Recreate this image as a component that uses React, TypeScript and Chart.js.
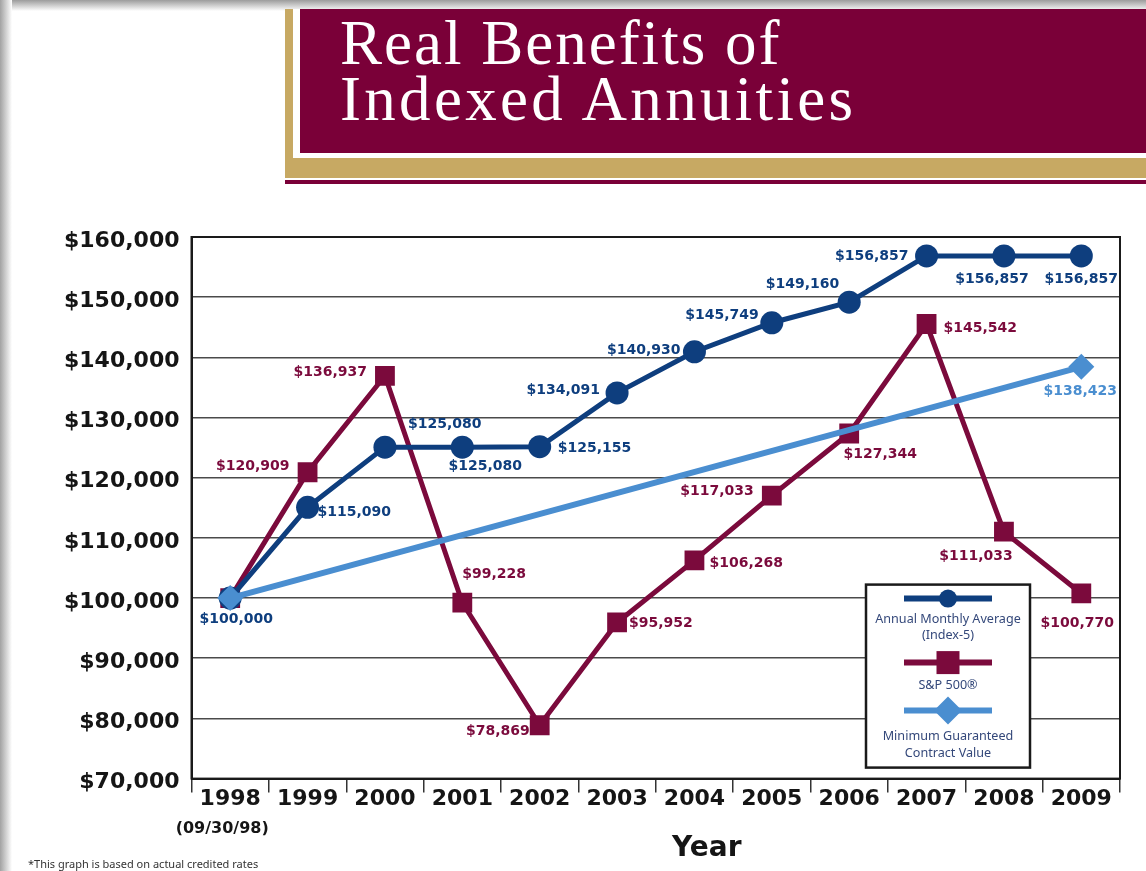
import React, { useEffect, useRef } from 'react';
import { Chart, registerables } from 'chart.js';

Chart.register(...registerables);

// ---------- data ----------
const years = ['1998', '1999', '2000', '2001', '2002', '2003', '2004', '2005', '2006', '2007', '2008', '2009'];
const annualMonthlyAverage = [100000, 115090, 125080, 125080, 125155, 134091, 140930, 145749, 149160, 156857, 156857, 156857];
const sp500 = [100000, 120909, 136937, 99228, 78869, 95952, 106268, 117033, 127344, 145542, 111033, 100770];
const minimumGuaranteed: (number | null)[] = [100000, null, null, null, null, null, null, null, null, null, null, 138423];
const yTickValues = [70000, 80000, 90000, 100000, 110000, 120000, 130000, 140000, 150000, 160000];
const firstYearNote = '(09/30/98)';
const xAxisTitle = 'Year';
const legendTexts = [['Annual Monthly Average', '(Index-5)'], ['S&P 500®'], ['Minimum Guaranteed', 'Contract Value']];
const seriesNames = ['Annual Monthly Average (Index-5)', 'S&P 500®', 'Minimum Guaranteed Contract Value'];

// ---------- styles ----------
const NAVY = '#0e3e7e';
const MAROON = '#7b0a3c';
const LIGHT = '#4a8ed0';
const FONT = "'DejaVu Sans', sans-serif";

type Placement = [number, number, CanvasTextAlign] | null;
const amaLabelPlacement: Placement[] = [
  [6, 21, 'center'],
  [10, 5, 'left'],
  [23, -23, 'left'],
  [23, 19, 'center'],
  [18, 2, 'left'],
  [-17, -3, 'right'],
  [-14, -1, 'right'],
  [-13, -7, 'right'],
  [-10, -18, 'right'],
  [-18, 0, 'right'],
  [-12, 23, 'center'],
  [0, 23, 'center'],
];
const spLabelPlacement: Placement[] = [
  null,
  [-18, -6, 'right'],
  [-18, -3, 'right'],
  [0, -28, 'left'],
  [-10, 6, 'right'],
  [12, 1, 'left'],
  [15, 3, 'left'],
  [-18, -4, 'right'],
  [31, 21, 'center'],
  [17, 4, 'left'],
  [-28, 25, 'center'],
  [-4, 30, 'center'],
];
const mgLabelPlacement: Placement[] = [null, null, null, null, null, null, null, null, null, null, null, [-1, 25, 'center']];
const placements = [amaLabelPlacement, spLabelPlacement, mgLabelPlacement];

const fmt = (v: number) => '$' + Math.round(v).toLocaleString('en-US');

const borderPlugin = {
  id: 'plotBorder',
  beforeDatasetsDraw(chart: any) {
    const { ctx, chartArea: a } = chart;
    ctx.save();
    ctx.strokeStyle = '#1a1a1a';
    ctx.lineWidth = 2;
    ctx.strokeRect(a.left, a.top, a.right - a.left, a.bottom - a.top);
    ctx.restore();
  },
};

const dataLabelPlugin = {
  id: 'pointLabels',
  afterDatasetsDraw(chart: any) {
    const { ctx } = chart;
    ctx.save();
    ctx.font = `bold 14px ${FONT}`;
    ctx.textBaseline = 'middle';
    chart.data.datasets.forEach((ds: any, i: number) => {
      const meta = chart.getDatasetMeta(i);
      const pl = placements[i];
      meta.data.forEach((el: any, j: number) => {
        const v = ds.data[j];
        const p = pl[j];
        if (v == null || !p) return;
        ctx.fillStyle = ds.borderColor;
        ctx.textAlign = p[2];
        ctx.fillText(fmt(v), el.x + p[0], el.y + p[1]);
      });
    });
    ctx.restore();
  },
};

const legendPlugin = {
  id: 'boxLegend',
  afterDatasetsDraw(chart: any) {
    const { ctx, chartArea: a } = chart;
    const w = 164, h = 183;
    const x0 = a.right - 90 - w;
    const y0 = a.bottom - 11 - h;
    ctx.save();
    ctx.fillStyle = '#ffffff';
    ctx.fillRect(x0, y0, w, h);
    ctx.lineWidth = 2.5;
    ctx.strokeStyle = '#1a1a1a';
    ctx.strokeRect(x0, y0, w, h);
    const cx = x0 + w / 2;
    const rows = [
      { lineY: 14, textY: [35, 51] },
      { lineY: 78, textY: [101] },
      { lineY: 126, textY: [152, 169] },
    ];
    chart.data.datasets.forEach((ds: any, i: number) => {
      const r = rows[i];
      const ly = y0 + r.lineY;
      ctx.strokeStyle = ds.borderColor;
      ctx.fillStyle = ds.borderColor;
      ctx.lineWidth = 6;
      ctx.beginPath();
      ctx.moveTo(cx - 44, ly);
      ctx.lineTo(cx + 44, ly);
      ctx.stroke();
      ctx.beginPath();
      if (ds.pointStyle === 'circle') {
        ctx.arc(cx, ly, 9, 0, Math.PI * 2);
      } else if (ds.pointStyle === 'rect') {
        ctx.rect(cx - 11.5, ly - 11.5, 23, 23);
      } else {
        ctx.moveTo(cx - 14, ly);
        ctx.lineTo(cx, ly - 14);
        ctx.lineTo(cx + 14, ly);
        ctx.lineTo(cx, ly + 14);
        ctx.closePath();
      }
      ctx.fill();
      ctx.fillStyle = '#34487a';
      ctx.font = `12.6px 'Noto Sans', sans-serif`;
      ctx.textAlign = 'center';
      ctx.textBaseline = 'middle';
      legendTexts[i].forEach((t, k) => ctx.fillText(t, cx, y0 + r.textY[k]));
    });
    ctx.restore();
  },
};

const axisTextPlugin = {
  id: 'axisText',
  afterDraw(chart: any) {
    const { ctx, chartArea: a } = chart;
    const xs = chart.scales.x;
    ctx.save();
    ctx.fillStyle = '#151515';
    ctx.textAlign = 'center';
    ctx.textBaseline = 'middle';
    ctx.font = `bold 16px ${FONT}`;
    ctx.fillText(firstYearNote, xs.getPixelForTick(0) - 8, a.bottom + 50);
    ctx.font = `bold 28px ${FONT}`;
    ctx.fillText(xAxisTitle, a.left + (a.right - a.left) * 0.555, a.bottom + 70);
    ctx.restore();
  },
};

function ChartCanvas() {
  const ref = useRef<HTMLCanvasElement | null>(null);
  useEffect(() => {
    if (!ref.current) return;
    const chart = new Chart(ref.current, {
      type: 'line',
      data: {
        labels: years,
        datasets: [
          {
            label: seriesNames[0],
            data: annualMonthlyAverage,
            borderColor: NAVY,
            backgroundColor: NAVY,
            borderWidth: 5,
            pointStyle: 'circle',
            pointRadius: 11.5,
            pointBorderWidth: 0,
            pointBackgroundColor: NAVY,
            tension: 0,
            order: 1,
          },
          {
            label: seriesNames[1],
            data: sp500,
            borderColor: MAROON,
            backgroundColor: MAROON,
            borderWidth: 5,
            pointStyle: 'rect',
            pointRadius: 14,
            pointBorderWidth: 0,
            pointBackgroundColor: MAROON,
            tension: 0,
            order: 2,
          },
          {
            label: seriesNames[2],
            data: minimumGuaranteed,
            borderColor: LIGHT,
            backgroundColor: LIGHT,
            borderWidth: 6,
            pointStyle: 'rectRot',
            pointRadius: 13,
            pointBorderWidth: 0,
            pointBackgroundColor: LIGHT,
            spanGaps: true,
            tension: 0,
            order: 0,
          },
        ],
      },
      options: {
        responsive: false,
        animation: false,
        layout: { padding: { top: 47, right: 26, bottom: 66, left: 52 } },
        plugins: {
          legend: { display: false },
          tooltip: { enabled: false },
          title: { display: false },
        },
        scales: {
          x: {
            type: 'category',
            offset: true,
            grid: {
              display: true,
              drawOnChartArea: false,
              drawTicks: true,
              tickLength: 14,
              offset: true,
              color: '#333',
              lineWidth: 1.5,
            },
            border: { display: true, color: '#1a1a1a', width: 2 },
            ticks: {
              font: { family: FONT, size: 22, weight: 'bold' },
              color: '#151515',
              padding: -7,
              maxRotation: 0,
              autoSkip: false,
            },
          },
          y: {
            min: 70000,
            max: 160000,
            afterBuildTicks: (scale: any) => {
              scale.ticks = yTickValues.map((v) => ({ value: v }));
            },
            grid: { color: '#4a4a4a', lineWidth: 1.5, drawTicks: false },
            border: { display: true, color: '#1a1a1a', width: 2 },
            ticks: {
              font: { family: FONT, size: 22, weight: 'bold' },
              color: '#151515',
              padding: 12,
              labelOffset: 4,
              callback: (v: any) => fmt(Number(v)),
            },
          },
        },
      } as any,
      plugins: [borderPlugin, dataLabelPlugin, legendPlugin, axisTextPlugin],
    });
    return () => chart.destroy();
  }, []);
  return <canvas ref={ref} width={1146} height={681} style={{ position: 'absolute', left: 0, top: 190, display: 'block' }} />;
}

export default function App() {
  return (
    <div style={{ position: 'fixed', left: 0, top: 0, width: 1146, height: 871, background: '#fff', overflow: 'hidden' }}>
      <div style={{ position: 'absolute', left: 0, top: 0, width: 1146, height: 11, background: 'linear-gradient(#9c9c9c, #ffffff)' }} />
      <div style={{ position: 'absolute', left: 0, top: 0, width: 12, height: 871, background: 'linear-gradient(to right, #a2a2a2, #ffffff)' }} />
      <div style={{ position: 'absolute', left: 285, top: 9, right: 0, height: 169, background: '#c7a963' }} />
      <div style={{ position: 'absolute', left: 293, top: 9, right: 0, height: 149, background: '#ffffff' }} />
      <div style={{ position: 'absolute', left: 300, top: 9, right: 0, height: 144, background: '#7a0038' }} />
      <div style={{ position: 'absolute', left: 285, top: 180, right: 0, height: 4, background: '#7a0038' }} />
      <div
        style={{
          position: 'absolute',
          left: 340,
          top: 15,
          color: '#ffffff',
          fontFamily: "'Liberation Serif', serif",
          fontSize: 63,
          lineHeight: '56px',
          whiteSpace: 'nowrap',
        }}
      >
        <div style={{ letterSpacing: 2 }}>Real Benefits of</div>
        <div style={{ letterSpacing: 3.3 }}>Indexed Annuities</div>
      </div>
      <ChartCanvas />
      <div
        style={{
          position: 'absolute',
          left: 28,
          top: 857,
          fontFamily: "'Noto Sans', sans-serif",
          fontSize: 11,
          lineHeight: '14px',
          color: '#333',
          whiteSpace: 'nowrap',
        }}
      >
        *This graph is based on actual credited rates
      </div>
    </div>
  );
}
